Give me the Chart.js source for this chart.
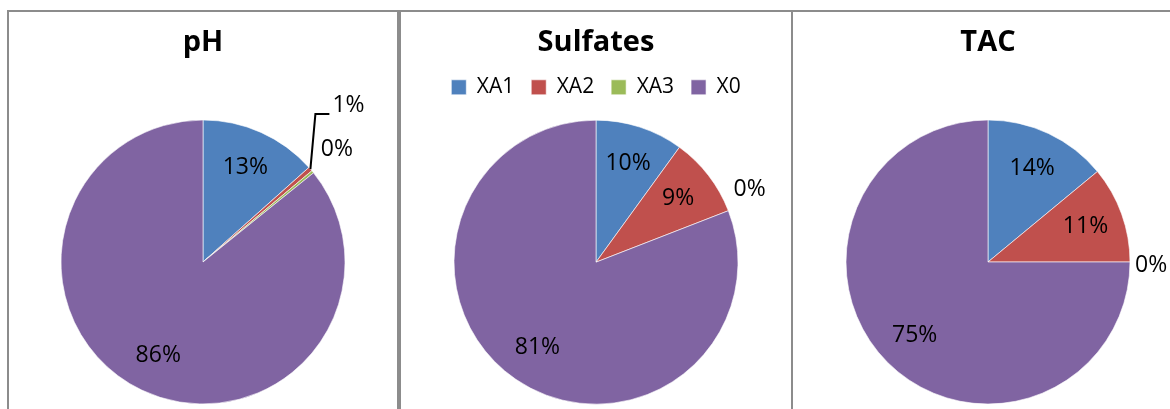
<!DOCTYPE html>
<html lang="pt">
<head>
<meta charset="UTF-8">
<title>pH / Sulfates / TAC</title>
<style>
  body { margin: 0; background: #fff; overflow: hidden; width: 1170px; height: 409px; position: relative; }
  .painel { position: absolute; top: 10px; border: 2px solid #8c8c8c; background: #fff; }
  .painel canvas { display: block; }
</style>
</head>
<body>

<div class="painel" style="left: 7px;"><canvas id="graficoPH" width="388" height="410"></canvas></div>
<div class="painel" style="left: 399px;"><canvas id="graficoSulfates" width="390" height="410"></canvas></div>
<div class="painel" style="left: 791px;"><canvas id="graficoTAC" width="390" height="410"></canvas></div>

<script src="https://cdn.jsdelivr.net/npm/chart.js/dist/chart.umd.min.js"></script>
<script>
    // categorias e valores (%) de cada grafico
    const categorias = ['XA1', 'XA2', 'XA3', 'X0'];
    const valoresPH = [13.4, 0.5, 0.3, 85.8];
    const valoresSulfates = [10.0, 9.1, 0, 80.9];
    const valoresTAC = [14.0, 11.0, 0, 75.0];
    const cores = ['#4F81BD', '#C0504D', '#9BBB59', '#8064A2'];

    const fonte = 'Open Sans';

    // rotulos de porcentagem em cada fatia
    const rotulosPizza = {
        id: 'rotulosPizza',
        afterDatasetsDraw(chart, args, opts) {
            const ctx = chart.ctx;
            const dados = chart.data.datasets[0].data;
            const total = dados.reduce((a, b) => a + b, 0);
            const arcos = chart.getDatasetMeta(0).data;
            ctx.save();
            ctx.font = opts.font;
            ctx.fillStyle = '#000';
            ctx.strokeStyle = '#000';
            ctx.textBaseline = 'middle';
            arcos.forEach((arco, i) => {
                const pct = dados[i] / total * 100;
                const texto = Math.round(pct) + '%';
                const p = arco.getProps(['x', 'y', 'startAngle', 'endAngle', 'outerRadius'], true);
                const meio = (p.startAngle + p.endAngle) / 2;
                const ux = Math.cos(meio), uy = Math.sin(meio);
                const r = p.outerRadius;

                if (pct >= 3) {
                    ctx.textAlign = 'center';
                    ctx.fillText(texto, p.x + ux * r * 0.73, p.y + uy * r * 0.73);
                    return;
                }

                const elevar = (opts.elevar || {})[i];
                if (elevar) {
                    // linha guia ate o rotulo
                    const x0 = p.x + ux * r, y0 = p.y + uy * r;
                    const x1 = x0 + 5, y1 = y0 - elevar;
                    ctx.lineWidth = 2;
                    ctx.beginPath();
                    ctx.moveTo(x0, y0);
                    ctx.lineTo(x1, y1);
                    ctx.lineTo(x1 + 14, y1);
                    ctx.stroke();
                    ctx.textAlign = 'left';
                    ctx.fillText(texto, x1 + 17, y1 - 9);
                    return;
                }

                // fatias pequenas: rotulo fora da pizza
                const w = ctx.measureText(texto).width, h = 18;
                const d = r + 10;
                const [ax, ay] = (opts.ajuste || {})[i] || [0, 0];
                ctx.textAlign = 'center';
                ctx.fillText(texto, p.x + ux * d + ux * w / 2 + ax, p.y + uy * d + uy * h / 2 + ay);
            });
            ctx.restore();
        }
    };

    function criarPizza(id, titulo, valores, comLegenda, rotulos) {
        return new Chart(document.getElementById(id), {
            type: 'pie',
            data: {
                labels: categorias,
                datasets: [{
                    data: valores,
                    backgroundColor: cores,
                    borderColor: 'rgba(255, 255, 255, 0.6)',
                    borderWidth: 1
                }]
            },
            options: {
                responsive: false,
                animation: false,
                radius: 142,
                layout: { padding: { top: 0, bottom: 5.5, left: 0, right: 0 } },
                plugins: {
                    title: {
                        display: true,
                        text: titulo,
                        color: '#000',
                        font: { family: fonte, size: 29, weight: 'bold' },
                        padding: comLegenda ? { top: 13, bottom: 0 } : { top: 13, bottom: 47.7 }
                    },
                    legend: {
                        display: comLegenda,
                        position: 'top',
                        labels: {
                            boxWidth: 15,
                            boxHeight: 15,
                            padding: 17,
                            color: '#000',
                            font: { family: fonte, size: 21 }
                        }
                    },
                    tooltip: { enabled: false },
                    rotulosPizza: Object.assign({ font: '23px "' + fonte + '"' }, rotulos)
                }
            },
            plugins: [rotulosPizza]
        });
    }

    criarPizza('graficoPH', 'pH', valoresPH, false, { elevar: { 1: 55 }, ajuste: { 2: [4, -10] } });
    criarPizza('graficoSulfates', 'Sulfates', valoresSulfates, true, { ajuste: { 2: [-3, -14] } });
    criarPizza('graficoTAC', 'TAC', valoresTAC, false, { ajuste: { 2: [-5, 3] } });
</script>
</body>
</html>
